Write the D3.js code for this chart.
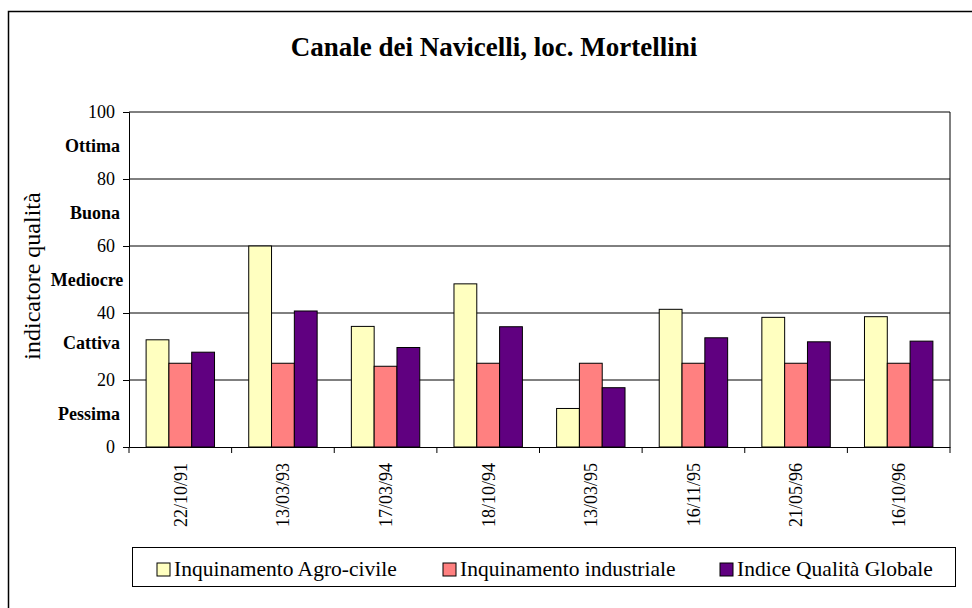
<!DOCTYPE html>
<html>
<head>
<meta charset="utf-8">
<script src="https://d3js.org/d3.v7.min.js"></script>
<style>
  body { margin: 0; background: white; }
  svg { display: block; font-family: "Liberation Serif", "Times New Roman", serif; }
</style>
</head>
<body>
<svg width="972" height="608"></svg>
<script>
const dates = ["22/10/91","13/03/93","17/03/94","18/10/94","13/03/95","16/11/95","21/05/96","16/10/96"];
const agro = [32, 60, 36, 48.7, 11.5, 41.1, 38.7, 38.9];
const industriale = [25, 25, 24.1, 25, 25, 25, 25, 25];
const globale = [28.3, 40.6, 29.7, 35.9, 17.7, 32.6, 31.4, 31.6];
const seriesNames = ["Inquinamento Agro-civile","Inquinamento industriale","Indice Qualità Globale"];
const colors = ["#ffffc0","#ff8080","#600080"];
const yTicks = [0, 20, 40, 60, 80, 100];
const classLabels = ["Pessima","Cattiva","Mediocre","Buona","Ottima"];
const classValues = [10, 31, 50, 70, 90];

var svg = d3.select("svg");
var pLeft = 129, pRight = 950, pTop = 112, pBottom = 447;

// outer frame (runs off the right and bottom edges)
svg.append("rect")
  .attr("x", 8.5).attr("y", 11.5)
  .attr("width", 1000).attr("height", 1000)
  .attr("fill", "white").attr("stroke", "black").attr("stroke-width", 1.5);

svg.append("text")
  .attr("x", 494).attr("y", 56)
  .attr("text-anchor", "middle")
  .attr("font-weight", "bold")
  .style("font-size", "27px")
  .text("Canale dei Navicelli, loc. Mortellini");

var x = d3.scaleBand().domain(dates).range([pLeft, pRight]);
var sub = d3.scaleBand().domain([0,1,2]).range([0, x.bandwidth()]).paddingOuter(0.75).paddingInner(0);
var y = d3.scaleLinear().domain([0, 100]).range([pBottom, pTop]);

// gridlines
svg.append("g").selectAll("line").data(yTicks.slice(1)).enter().append("line")
  .attr("x1", pLeft).attr("x2", pRight)
  .attr("y1", d => y(d)).attr("y2", d => y(d))
  .attr("stroke", "black").attr("stroke-width", 1);

// right border of plot
svg.append("line")
  .attr("x1", pRight).attr("x2", pRight).attr("y1", pTop).attr("y2", pBottom)
  .attr("stroke", "black");

var data = [agro, industriale, globale];
dates.forEach(function(dt, i) {
  svg.append("g").selectAll("rect").data([0,1,2]).enter().append("rect")
    .attr("x", s => x(dt) + sub(s))
    .attr("width", sub.bandwidth())
    .attr("y", s => y(data[s][i]))
    .attr("height", s => y(0) - y(data[s][i]))
    .attr("fill", s => colors[s])
    .attr("stroke", "black").attr("stroke-width", 1);
});

// y axis
var yAxis = svg.append("g")
  .attr("transform", "translate(" + pLeft + ",0)")
  .call(d3.axisLeft(y).tickValues(yTicks).tickSize(6).tickPadding(8));
yAxis.selectAll("text").style("font-size", "18px").attr("fill", "black")
  .style("font-family", "Liberation Serif");
yAxis.selectAll("line").attr("stroke", "black");
yAxis.select(".domain").attr("stroke", "black");

// class labels: right aligned in a box, centred when too wide
svg.append("g").selectAll("text").data(classValues).enter().append("text")
  .attr("y", d => y(d)).attr("dy", "0.35em")
  .attr("font-weight", "bold")
  .style("font-size", "18px")
  .text((d, i) => classLabels[i])
  .each(function() {
    var w = this.getComputedTextLength();
    if (w > 66) d3.select(this).attr("x", 87).attr("text-anchor", "middle");
    else d3.select(this).attr("x", 120).attr("text-anchor", "end");
  });

// x axis
var xAxis = svg.append("g")
  .attr("transform", "translate(0," + pBottom + ")")
  .call(d3.axisBottom(x).tickSize(0).tickPadding(0));
xAxis.select(".domain").attr("stroke", "black");
xAxis.selectAll("text")
  .attr("transform", "rotate(-90)")
  .attr("x", -16).attr("y", 0).attr("dy", "0.35em")
  .attr("text-anchor", "end")
  .style("font-size", "18px")
  .style("font-family", "Liberation Serif")
  .attr("fill", "black");
svg.append("g").selectAll("line").data(d3.range(dates.length + 1)).enter().append("line")
  .attr("x1", i => pLeft + i * x.step()).attr("x2", i => pLeft + i * x.step())
  .attr("y1", pBottom).attr("y2", pBottom + 6)
  .attr("stroke", "black");

// y title
svg.append("text")
  .attr("transform", "translate(40,276) rotate(-90)")
  .attr("text-anchor", "middle")
  .style("font-size", "24px")
  .text("indicatore qualità");

// legend
svg.append("rect")
  .attr("x", 132.5).attr("y", 547.5).attr("width", 823).attr("height", 39)
  .attr("fill", "white").attr("stroke", "black");
var legX = [157, 443, 720];
var leg = svg.append("g").selectAll("g").data(seriesNames).enter().append("g")
  .attr("transform", (d, i) => "translate(" + legX[i] + ",563)");
leg.append("rect").attr("width", 13).attr("height", 13)
  .attr("fill", (d, i) => colors[i]).attr("stroke", "black");
leg.append("text").attr("x", 17).attr("y", 13)
  .style("font-size", "21.5px")
  .text(d => d);
</script>
</body>
</html>
